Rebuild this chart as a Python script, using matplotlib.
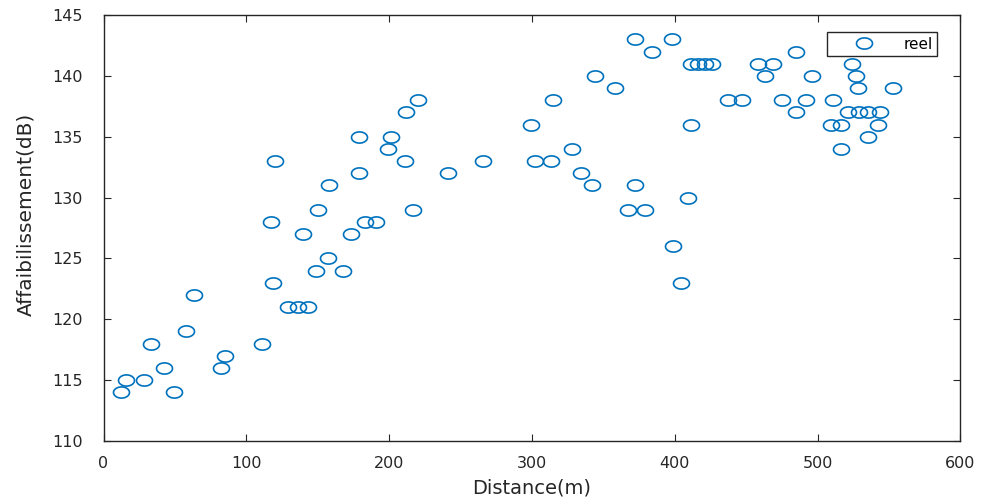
"""Scatter of measured path loss (Affaiblissement) against distance."""

import matplotlib
matplotlib.use('Agg')
from matplotlib import pyplot
from matplotlib.path import Path
import numpy

# Measured points: distance (m) and path loss (dB).
distance = [12, 16, 28, 33, 42, 49, 58, 63, 82, 85,
            111, 117, 119, 120, 129, 136, 143, 140, 150, 149,
            157, 158, 168, 173, 179, 179, 183, 191, 199, 201,
            211, 212, 217, 220, 241, 266, 299, 302, 313, 315,
            328, 334, 342, 344, 358, 367, 372, 372, 379, 384,
            398, 399, 404, 409, 411, 411, 416, 421, 426, 437,
            447, 458, 463, 469, 475, 485, 485, 492, 496, 509,
            511, 516, 516, 521, 524, 527, 528, 529, 535, 535,
            542, 544, 553]
loss = [114, 115, 115, 118, 116, 114, 119, 122, 116, 117,
        118, 128, 123, 133, 121, 121, 121, 127, 129, 124,
        125, 131, 124, 127, 132, 135, 128, 128, 134, 135,
        133, 137, 129, 138, 132, 133, 136, 133, 133, 138,
        134, 132, 131, 140, 139, 129, 131, 143, 129, 142,
        143, 126, 123, 130, 136, 141, 141, 141, 141, 138,
        138, 141, 140, 141, 138, 137, 142, 138, 140, 136,
        138, 136, 134, 137, 141, 140, 139, 137, 137, 135,
        136, 137, 139]

# Slightly flattened circle, like the stretched MATLAB export.
theta = numpy.linspace(0, 2 * numpy.pi, 60)
ellipse = Path(numpy.column_stack([numpy.cos(theta), 0.7 * numpy.sin(theta)]),
               closed=True)

blue = '#0072BD'
dark = '#262626'

pyplot.rc('font', family='DejaVu Sans', size=11.5)
fig = pyplot.figure(figsize=(9.85, 5.01), dpi=100)
ax = fig.add_axes([0.1051, 0.1198, 0.8700, 0.8502])
ax.plot(distance, loss, linestyle='none', marker=ellipse, markersize=11.5,
        markerfacecolor='none', markeredgecolor=blue, markeredgewidth=1.2,
        label='reel')

ax.set_xlim(0, 600)
ax.set_ylim(110, 145)
ax.set_xticks(range(0, 601, 100))
ax.set_yticks(range(110, 146, 5))
ax.tick_params(direction='in', length=5, top=True, right=True,
               colors=dark, labelsize=11.5)
ax.tick_params(axis='x', pad=11)
ax.tick_params(axis='y', pad=15)
for spine in ax.spines.values():
    spine.set_color(dark)
    spine.set_linewidth(1.0)

ax.set_xlabel('Distance(m)', fontsize=14, color=dark, labelpad=5)
ax.set_ylabel('Affaibilissement(dB)', fontsize=14.5, color=dark)
ax.yaxis.set_label_coords(-0.079, 0.533)

leg = ax.legend(loc='upper right', bbox_to_anchor=(0.973, 0.960),
                borderaxespad=0, fancybox=False, framealpha=1,
                edgecolor=dark, fontsize=11, handlelength=4.2,
                handletextpad=0.5, borderpad=0.3)
leg.get_frame().set_linewidth(1.0)

fig.savefig('out.png', dpi=100)
